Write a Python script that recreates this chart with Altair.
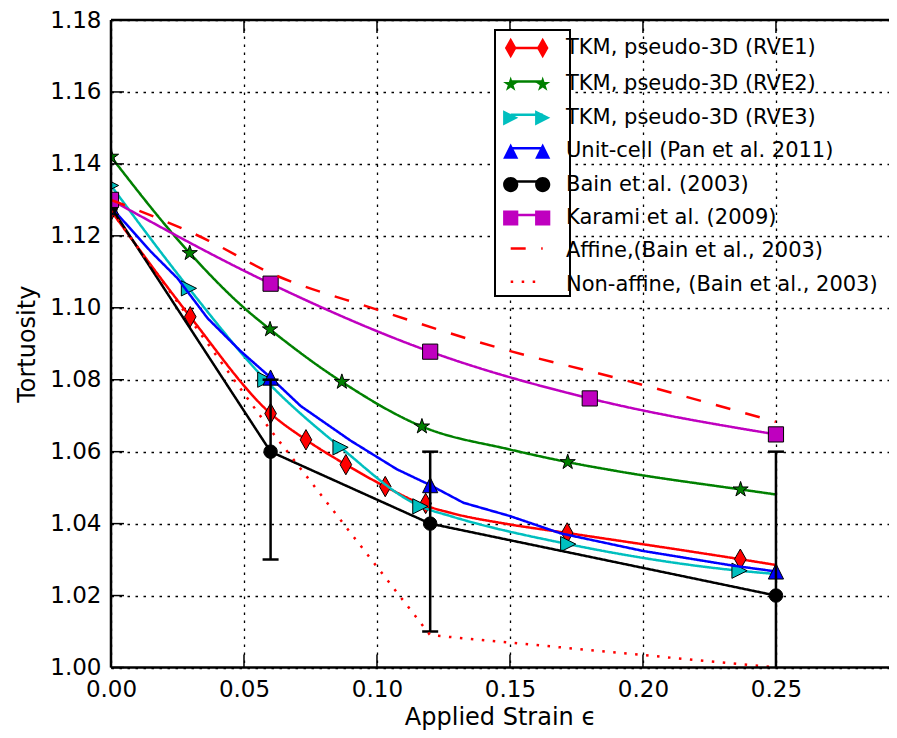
import math
import altair as alt
import pandas as pd

# ---------------- data ----------------
series_labels = [
    "TKM, pseudo-3D (RVE1)",
    "TKM, pseudo-3D (RVE2)",
    "TKM, pseudo-3D (RVE3)",
    "Unit-cell (Pan et al. 2011)",
    "Bain et al. (2003)",
    "Karami et al. (2009)",
    "Affine,(Bain et al., 2003)",
    "Non-affine, (Bain et al., 2003)",
]
series_colors = ["#ff0000", "#008000", "#00bfbf", "#0000ff", "#000000", "#bf00bf", "#ff0000", "#ff0000"]
line_keys = ["l-rve1", "l-rve2", "l-rve3", "l-pan", "l-bain", "l-karami", "l-affine", "l-nonaffine"]
line_dashes = [[1, 0], [1, 0], [1, 0], [1, 0], [1, 0], [1, 0], [15, 15.5], [2.5, 8.5]]

x_ticks = [0.0, 0.05, 0.10, 0.15, 0.20, 0.25]
y_ticks = [1.00, 1.02, 1.04, 1.06, 1.08, 1.10, 1.12, 1.14, 1.16, 1.18]
x_domain = [0.0, 0.2925]
y_domain = [1.00, 1.18]

rve1_line_x = [0.0, 0.0298, 0.060, 0.0733, 0.0883, 0.1031, 0.1183, 0.1276, 0.1497, 0.1715, 0.2366, 0.25]
rve1_line_y = [1.127, 1.0975, 1.0706, 1.0633, 1.0564, 1.0503, 1.0450, 1.0430, 1.0398, 1.0374, 1.0301, 1.0285]
rve1_mark_x = [0.0, 0.0298, 0.060, 0.0733, 0.0883, 0.1031, 0.1183, 0.1715, 0.2366]
rve1_mark_y = [1.127, 1.0975, 1.0706, 1.0633, 1.0564, 1.0503, 1.0456, 1.0374, 1.0301]

rve2_line_x = [0.0, 0.0296, 0.050, 0.0598, 0.0868, 0.1169, 0.150, 0.1717, 0.191, 0.2367, 0.25]
rve2_line_y = [1.142, 1.1152, 1.1000, 1.0940, 1.0794, 1.0670, 1.0606, 1.0571, 1.0545, 1.0495, 1.0481]
rve2_mark_x = [0.0, 0.0296, 0.0598, 0.0868, 0.1169, 0.1717, 0.2367]
rve2_mark_y = [1.142, 1.1152, 1.0940, 1.0794, 1.0670, 1.0571, 1.0495]

rve3_line_x = [0.0, 0.0293, 0.058, 0.0863, 0.1163, 0.1276, 0.1719, 0.2363, 0.25]
rve3_line_y = [1.134, 1.1054, 1.0800, 1.0612, 1.0448, 1.0421, 1.0343, 1.0269, 1.0260]
rve3_mark_x = [0.0, 0.0293, 0.058, 0.0863, 0.1163, 0.1719, 0.2363]
rve3_mark_y = [1.134, 1.1054, 1.0800, 1.0612, 1.0448, 1.0343, 1.0269]

pan_line_x = [0.0, 0.015, 0.025, 0.0363, 0.0424, 0.0488, 0.060, 0.0713, 0.090, 0.1075, 0.120,
              0.1325, 0.150, 0.169, 0.200, 0.234, 0.25]
pan_line_y = [1.128, 1.1156, 1.1082, 1.0971, 1.0926, 1.0879, 1.0806, 1.0727, 1.0631, 1.0551, 1.0507,
              1.0458, 1.0421, 1.0373, 1.0324, 1.0283, 1.0267]
pan_mark_x = [0.0, 0.06, 0.12, 0.25]
pan_mark_y = [1.128, 1.0806, 1.0507, 1.0267]

bain_x = [0.0, 0.06, 0.12, 0.25]
bain_y = [1.128, 1.060, 1.040, 1.020]
bain_err_x = [0.06, 0.12, 0.25]
bain_err_lo = [1.030, 1.010, 0.980]
bain_err_hi = [1.080, 1.060, 1.060]

karami_x = [0.0, 0.06, 0.12, 0.18, 0.25]
karami_y = [1.130, 1.1067, 1.0878, 1.0748, 1.0648]

affine_x = [0.0, 0.0366, 0.059, 0.100, 0.146, 0.190, 0.25]
affine_y = [1.130, 1.1187, 1.1100, 1.0995, 1.0888, 1.0805, 1.0683]

nonaffine_x = [0.0, 0.06, 0.12, 0.25]
nonaffine_y = [1.127, 1.066, 1.009, 1.000]

# ---------------- marker geometry ----------------
def f(v):
    return f"{v:.3f}"

def diamond_path(cx, hw, hh):
    return f"M{f(cx)},{f(-hh)}L{f(cx + hw)},0L{f(cx)},{f(hh)}L{f(cx - hw)},0Z"

def star_path(cx, r_out):
    pts = []
    for k in range(10):
        a = math.radians(-90 + 36 * k)
        r = r_out if k % 2 == 0 else r_out * 0.381966
        pts.append((cx + r * math.cos(a), r * math.sin(a)))
    return "M" + "L".join(f"{f(x)},{f(y)}" for x, y in pts) + "Z"

def tri_right_path(cx, h):
    return f"M{f(cx + h)},0L{f(cx - h)},{f(-h)}L{f(cx - h)},{f(h)}Z"

def tri_up_path(cx, h):
    return f"M{f(cx)},{f(-h)}L{f(cx - h)},{f(h)}L{f(cx + h)},{f(h)}Z"

def circle_path(cx, r):
    return (f"M{f(cx + r)},0A{f(r)},{f(r)} 0 1 1 {f(cx - r)},0"
            f"A{f(r)},{f(r)} 0 1 1 {f(cx + r)},0Z")

def square_path(cx, h):
    return f"M{f(cx - h)},{f(-h)}H{f(cx + h)}V{f(h)}H{f(cx - h)}Z"

# pixel half sizes of the markers
HD_W, HD_H = 5.8, 10.2   # thin diamond
H_STAR = 8.0
H_TRI = 7.6
R_CIRC = 7.6
H_SQ = 7.6

# legend B (markers): sqrt(size)=27 -> unit 13.5 px ; legend A (line): sqrt(size)=25.5 -> unit 12.75 px
UB = 13.5
UA = 12.75
CX = 16.0  # marker centre offset in px

def pair(fn, *args):
    return fn(-CX / UB, *args) + fn(CX / UB, *args)

legend_marker_paths = [
    pair(diamond_path, HD_W / UB, HD_H / UB),
    pair(star_path, H_STAR / UB),
    pair(tri_right_path, H_TRI / UB),
    pair(tri_up_path, H_TRI / UB),
    pair(circle_path, R_CIRC / UB),
    pair(square_path, H_SQ / UB),
    "M0,0",
    "M0,0",
]
legend_line_path = f"M{f(-CX / UA)},0H{f(CX / UA)}"

FONT = "DejaVu Sans"

leg_common = dict(title=None, orient="none", legendX=384, legendY=10, direction="vertical",
                  columns=1, padding=4, symbolOffset=13.7, labelOffset=25.3, labelFont=FONT,
                  labelFontSize=21, labelLimit=600, rowPadding=9.4)

legA = alt.Legend(fillColor="white", strokeColor="black", symbolType=legend_line_path,
                  symbolSize=(2 * UA) ** 2, symbolStrokeWidth=2.5, labelOpacity=0,
                  labelExpr="' '", zindex=1, **leg_common)
legB = alt.Legend(symbolSize=(2 * UB) ** 2, symbolStrokeWidth=1, symbolStrokeColor="black",
                  symbolOpacity=1, labelColor="black", zindex=2, **leg_common)

stroke_scale = alt.Scale(domain=line_keys, range=series_colors)
dash_scale = alt.Scale(domain=line_keys, range=line_dashes)

xs = alt.Scale(domain=x_domain, nice=False, zero=False)
ys = alt.Scale(domain=y_domain, nice=False, zero=False)

x_axis = alt.Axis(values=x_ticks, format=".2f", grid=True, gridDash=[2.5, 5.5], gridColor="black",
                  gridWidth=1.3, gridOpacity=1, ticks=False, tickSize=0, domain=False,
                  labelFontSize=23, labelPadding=11, labelFlush=False, labelOverlap=False,
                  labelBound=False, title="Applied Strain ϵ", titleFontSize=24, titlePadding=4)
y_axis = alt.Axis(values=y_ticks, format=".2f", grid=True, gridDash=[2.5, 5.5], gridColor="black",
                  gridWidth=1.3, gridOpacity=1, ticks=False, tickSize=0, domain=False,
                  labelFontSize=23, labelPadding=10, labelFlush=False, labelOverlap=False,
                  labelBound=False, title="Tortuosity", titleFontSize=24, titlePadding=10)

X = lambda: alt.X("x:Q", scale=xs, axis=x_axis)
Y = lambda: alt.Y("y:Q", scale=ys, axis=y_axis)


def line_layer(xv, yv, key, interp):
    df = pd.DataFrame({"x": xv, "y": yv, "lk": key})
    return alt.Chart(df).mark_line(strokeWidth=2.5, interpolate=interp, clip=True, strokeCap="butt").encode(
        x=X(), y=Y(),
        stroke=alt.Stroke("lk:N", scale=stroke_scale, legend=legA),
        strokeDash=alt.StrokeDash("lk:N", scale=dash_scale, legend=legA),
    )


def point_layer(xv, yv, shape, size, color):
    df = pd.DataFrame({"x": xv, "y": yv})
    return alt.Chart(df).mark_point(shape=shape, size=size, filled=True, fill=color, stroke="black",
                                    strokeWidth=1, opacity=1, fillOpacity=1, clip=True).encode(x=X(), y=Y())


plot_diamond = diamond_path(0, HD_W / HD_H, 1)
plot_star = star_path(0, 1)
plot_tri_right = tri_right_path(0, 1)
plot_tri_up = tri_up_path(0, 1)

layers = [
    line_layer(rve1_line_x, rve1_line_y, line_keys[0], "monotone"),
    point_layer(rve1_mark_x, rve1_mark_y, plot_diamond, (2 * HD_H) ** 2, series_colors[0]),
    line_layer(rve2_line_x, rve2_line_y, line_keys[1], "monotone"),
    point_layer(rve2_mark_x, rve2_mark_y, plot_star, (2 * H_STAR) ** 2, series_colors[1]),
    line_layer(rve3_line_x, rve3_line_y, line_keys[2], "monotone"),
    point_layer(rve3_mark_x, rve3_mark_y, plot_tri_right, (2 * H_TRI) ** 2, series_colors[2]),
    line_layer(pan_line_x, pan_line_y, line_keys[3], "linear"),
    point_layer(pan_mark_x, pan_mark_y, plot_tri_up, (2 * H_TRI) ** 2, series_colors[3]),
    line_layer(bain_x, bain_y, line_keys[4], "linear"),
]

err_df = pd.DataFrame({"x": bain_err_x, "lo": bain_err_lo, "hi": bain_err_hi})
layers.append(alt.Chart(err_df).mark_rule(strokeWidth=2.5, color="black", clip=True).encode(
    x=X(), y=alt.Y("lo:Q", scale=ys, axis=y_axis), y2="hi:Q"))
layers.append(alt.Chart(err_df).mark_tick(orient="horizontal", size=16, thickness=2.5, color="black",
                                          opacity=1, clip=True).encode(
    x=X(), y=alt.Y("lo:Q", scale=ys, axis=y_axis)))
layers.append(alt.Chart(err_df).mark_tick(orient="horizontal", size=16, thickness=2.5, color="black",
                                          opacity=1, clip=True).encode(
    x=X(), y=alt.Y("hi:Q", scale=ys, axis=y_axis)))
layers.append(point_layer(bain_x, bain_y, "circle", math.pi * R_CIRC ** 2, series_colors[4]))
layers.append(line_layer(karami_x, karami_y, line_keys[5], "monotone"))
layers.append(point_layer(karami_x, karami_y, "square", (2 * H_SQ) ** 2, series_colors[5]))
layers.append(line_layer(affine_x, affine_y, line_keys[6], "monotone"))
layers.append(line_layer(nonaffine_x, nonaffine_y, line_keys[7], "linear"))

# frame (left, top, bottom spines; right spine lies outside the picture)
layers.append(alt.Chart(pd.DataFrame({"y": [y_domain[0], y_domain[1]]})).mark_rule(
    color="black", strokeWidth=2.5).encode(y=Y()))
layers.append(alt.Chart(pd.DataFrame({"x": [x_domain[0]]})).mark_rule(
    color="black", strokeWidth=2.5).encode(x=X()))

# inward ticks
xt_df = pd.DataFrame({"x": x_ticks})
yt_df = pd.DataFrame({"y": y_ticks})
layers.append(alt.Chart(xt_df).mark_tick(orient="vertical", size=13, thickness=1.5, color="black",
                                         opacity=1, yOffset=-6.5).encode(x=X(), y=alt.datum(y_domain[0])))
layers.append(alt.Chart(xt_df).mark_tick(orient="vertical", size=13, thickness=1.5, color="black",
                                         opacity=1, yOffset=6.5).encode(x=X(), y=alt.datum(y_domain[1])))
layers.append(alt.Chart(yt_df).mark_tick(orient="horizontal", size=13, thickness=1.5, color="black",
                                         opacity=1, xOffset=6.5).encode(y=Y(), x=alt.datum(x_domain[0])))

# legend (markers) layer: invisible marks, drives the marker legend
leg_df = pd.DataFrame({"s": series_labels})
layers.append(alt.Chart(leg_df).mark_point(filled=True, opacity=0, stroke="black", strokeWidth=1).encode(
    fill=alt.Fill("s:N", scale=alt.Scale(domain=series_labels, range=series_colors), legend=legB),
    shape=alt.Shape("s:N", scale=alt.Scale(domain=series_labels, range=legend_marker_paths), legend=legB),
))

chart = alt.layer(*layers).properties(
    width=778, height=647.5,
    padding={"left": 103, "top": 12, "right": 0, "bottom": 62},
    autosize=alt.AutoSizeParams(type="none"),
    background="white",
).configure_axis(
    labelFont=FONT, titleFont=FONT, labelColor="black", titleColor="black", titleFontWeight="normal"
).configure_legend(
    strokeWidth=2
).configure_view(
    stroke=None
)

chart.save("out.html", embed_options={"renderer": "svg", "actions": False})
